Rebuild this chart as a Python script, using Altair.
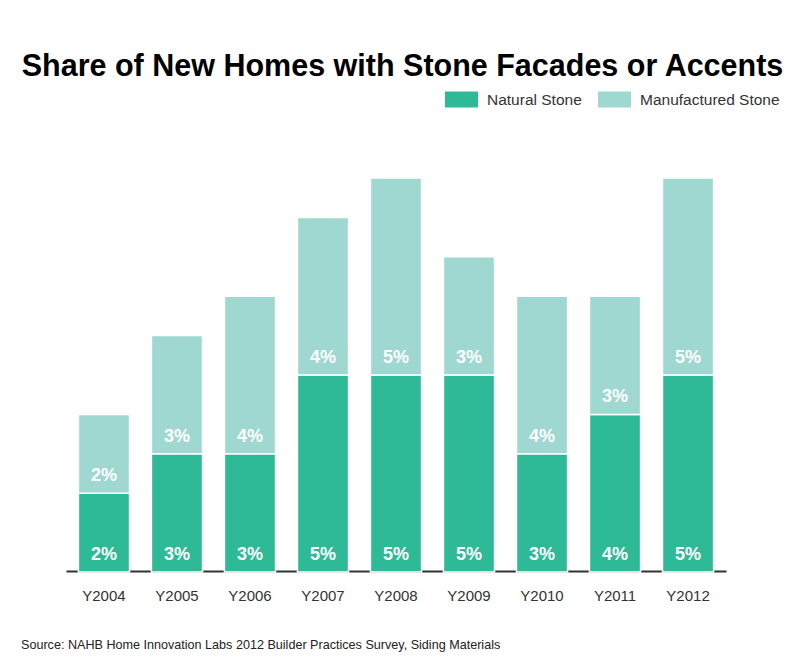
import altair as alt
import pandas as pd

years = ["Y2004", "Y2005", "Y2006", "Y2007", "Y2008", "Y2009", "Y2010", "Y2011", "Y2012"]
natural = [2, 3, 3, 5, 5, 5, 3, 4, 5]
manufactured = [2, 3, 4, 4, 5, 3, 4, 3, 5]
series = ["Natural Stone", "Manufactured Stone"]
colors = ["#2fba97", "#9ed8d0"]
title_text = "Share of New Homes with Stone Facades or Accents"
source_text = "Source: NAHB Home Innovation Labs 2012 Builder Practices Survey, Siding Materials"

rows = []
for i, yr in enumerate(years):
    rows.append({"year": yr, "type": series[0], "value": natural[i], "order": 0})
    rows.append({"year": yr, "type": series[1], "value": manufactured[i], "order": 1})
df = pd.DataFrame(rows)

FONT = "Liberation Sans"

base = alt.Chart(df).transform_stack(
    stack="value", as_=["y0", "y1"], groupby=["year"], sort=[alt.SortField("order")]
)

x = alt.X(
    "year:N",
    sort=years,
    scale=alt.Scale(paddingInner=0.3, paddingOuter=0.17),
    axis=alt.Axis(
        title=None, labelAngle=0, ticks=False, domainColor="#333333", domainWidth=2,
        labelFontSize=15, labelColor="#333333", labelPadding=17, zindex=0, labelFont=FONT,
        offset=-1,
    ),
)
yscale = alt.Scale(domain=[0, 10], nice=False)

bars = base.mark_bar(stroke="white", strokeWidth=1.5).encode(
    x=x,
    y=alt.Y("y0:Q", scale=yscale, axis=None),
    y2="y1:Q",
    color=alt.Color(
        "type:N",
        scale=alt.Scale(domain=series, range=colors),
        legend=alt.Legend(
            title=None, orient="none", legendX=379, legendY=-95, direction="horizontal",
            symbolType="M-1,-0.48H1V0.48H-1Z", symbolSize=1089, symbolStrokeWidth=0,
            labelFontSize=15.5, labelColor="#333333", labelOffset=9, columnPadding=16,
            labelFont=FONT,
        ),
    ),
)

labels = base.transform_calculate(lbl="datum.value + '%'").mark_text(
    color="white", fontWeight="bold", fontSize=18, baseline="middle", dy=-17, font=FONT
).encode(x=x, y=alt.Y("y0:Q", scale=yscale, axis=None), text="lbl:N")

title = alt.Chart(pd.DataFrame({"t": [title_text]})).mark_text(
    fontSize=30.5, fontWeight="bold", font=FONT, color="#000000", align="center", baseline="alphabetic"
).encode(x=alt.value(336.5), y=alt.value(-102), text="t:N")

source = alt.Chart(pd.DataFrame({"t": [source_text]})).mark_text(
    fontSize=12.6, font=FONT, color="#222222", align="left", baseline="alphabetic"
).encode(x=alt.value(-45), y=alt.value(471), text="t:N")

chart = alt.layer(bars, labels, title, source).properties(
    width=660,
    height=394,
    padding={"left": 58, "top": 170, "right": 66, "bottom": 80},
    autosize=alt.AutoSizeParams(type="none"),
).configure(font=FONT).configure_view(stroke=None, strokeWidth=0)

chart.save("out.html", embed_options={"renderer": "svg", "actions": False})
